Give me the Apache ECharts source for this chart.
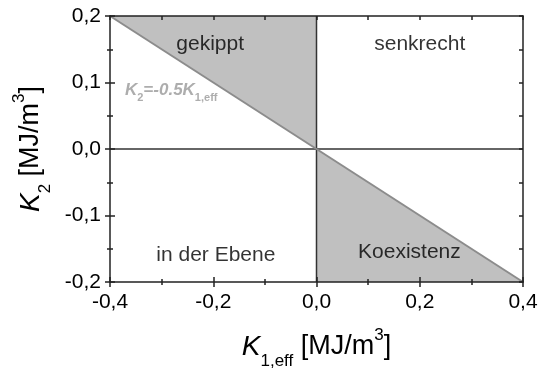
<!DOCTYPE html>
<html>
<head>
<meta charset="utf-8">
<script src="https://cdn.jsdelivr.net/npm/echarts@6/dist/echarts.min.js"></script>
<style>
  html, body { margin: 0; padding: 0; background: #fff; }
  #chart { width: 539px; height: 371px; }
</style>
</head>
<body>
<div id="chart"></div>
<script>
// Anisotropy phase diagram: K2 versus effective K1
const xTickLabels = ['-0,4', '-0,2', '0,0', '0,2', '0,4'];
const yTickLabels = ['-0,2', '-0,1', '0,0', '0,1', '0,2'];

// Boundary K2 = -0.5 K1,eff
const boundaryK1 = [-0.4, 0.4];
const boundaryK2 = [0.2, -0.2];

// Shaded regions (vertices in K1, K2)
const tiltedRegion = [[-0.4, 0.2], [0, 0.2], [0, 0]];
const coexistRegion = [[0, 0], [0, -0.2], [0.4, -0.2]];

// Zero lines
const zeroLineH = [[-0.4, 0], [0.4, 0]];
const zeroLineV = [[0, -0.2], [0, 0.2]];

// Region names
const regionNames = ['gekippt', 'senkrecht', 'in der Ebene', 'Koexistenz'];

const FONT = '"Liberation Sans", Arial, sans-serif';
const AX = '#222';

// Label anchors for region names (data coordinates)
const regionAnchors = [[-0.206, 0.157], [0.2, 0.157], [-0.195, -0.159], [0.18, -0.155]];
const formulaAnchor = [-0.371, 0.088];

function axisBase(extra) {
  return Object.assign({
    type: 'value',
    gridIndex: 0,
    z: 10,
    splitLine: { show: false },
    axisLine: { show: true, onZero: false, lineStyle: { color: AX, width: 1.5 } },
    axisTick: { show: true, inside: true, length: 5, lineStyle: { color: AX, width: 1.5 } },
    minorTick: { show: true, splitNumber: 2, length: 3, lineStyle: { color: AX, width: 1.5 } },
    axisLabel: { show: false }
  }, extra);
}

const xRange = { min: -0.4, max: 0.4, interval: 0.2 };
const yRange = { min: -0.2, max: 0.2, interval: 0.1 };

const titleRich = {
  k: { fontFamily: FONT, fontSize: 28, fontStyle: 'italic', color: '#000', verticalAlign: 'top', padding: [8, 0, 0, 0], lineHeight: 28 },
  t: { fontFamily: FONT, fontSize: 27, color: '#000', verticalAlign: 'top', padding: [8, 0, 0, 0], lineHeight: 28 },
  sub: { fontFamily: FONT, fontSize: 17, color: '#000', verticalAlign: 'top', padding: [28, 0, 0, 0], lineHeight: 17 },
  sup: { fontFamily: FONT, fontSize: 17, color: '#000', verticalAlign: 'top', padding: [2, 0, 0, 0], lineHeight: 17 }
};

const option = {
  backgroundColor: '#fff',
  animation: false,
  grid: { left: 110, right: 16, top: 16, bottom: 89, containLabel: false, outerBoundsMode: 'none' },
  xAxis: [
    axisBase(Object.assign({
      position: 'bottom',
      axisLabel: {
        show: true, margin: 10, color: '#000', fontFamily: FONT, fontSize: 21,
        formatter: (v, i) => xTickLabels[i]
      },
      name: '{k|K}{sub|1,eff}{t| [MJ/m}{sup|3}{t|]}',
      nameLocation: 'middle',
      nameGap: 43,
      nameTextStyle: { rich: titleRich }
    }, xRange)),
    axisBase(Object.assign({
      position: 'bottom',
      axisLine: { show: false, onZero: false },
      axisTick: { show: true, inside: false, length: 5, lineStyle: { color: AX, width: 1.5 } },
      minorTick: { show: true, splitNumber: 2, length: 3, lineStyle: { color: AX, width: 1.5 } }
    }, xRange)),
    axisBase(Object.assign({
      position: 'top',
      axisTick: { show: true, inside: true, length: 4, lineStyle: { color: AX, width: 1.5 } },
      minorTick: { show: true, splitNumber: 2, length: 4, lineStyle: { color: AX, width: 1.5 } }
    }, xRange))
  ],
  yAxis: [
    axisBase(Object.assign({
      position: 'left',
      axisLabel: {
        show: true, margin: 9, color: '#000', fontFamily: FONT, fontSize: 21,
        formatter: (v, i) => yTickLabels[i]
      },
      name: '{k|K}{sub|2}{t| [MJ/m}{sup|3}{t|]}',
      nameLocation: 'middle',
      nameRotate: 90,
      nameGap: 60,
      nameTextStyle: { rich: titleRich }
    }, yRange)),
    axisBase(Object.assign({
      position: 'left',
      axisLine: { show: false, onZero: false },
      axisTick: { show: true, inside: false, length: 5, lineStyle: { color: AX, width: 1.5 } },
      minorTick: { show: true, splitNumber: 2, length: 3, lineStyle: { color: AX, width: 1.5 } }
    }, yRange)),
    axisBase(Object.assign({
      position: 'right',
      axisTick: { show: true, inside: true, length: 4, lineStyle: { color: AX, width: 1.5 } },
      minorTick: { show: true, splitNumber: 2, length: 4, lineStyle: { color: AX, width: 1.5 } }
    }, yRange))
  ],
  series: [
    {
      type: 'custom',
      xAxisIndex: 0, yAxisIndex: 0,
      z: 1,
      silent: true,
      data: [0, 1],
      renderItem: function (params, api) {
        const poly = [tiltedRegion, coexistRegion][params.dataIndex];
        return {
          type: 'polygon',
          shape: { points: poly.map(p => api.coord(p)) },
          style: { fill: '#c0c0c0', stroke: null }
        };
      }
    },
    {
      type: 'line', xAxisIndex: 0, yAxisIndex: 0, z: 3, silent: true,
      symbol: 'none', data: zeroLineH,
      lineStyle: { color: '#333', width: 1.5 }
    },
    {
      type: 'line', xAxisIndex: 0, yAxisIndex: 0, z: 3, silent: true,
      symbol: 'none', data: zeroLineV,
      lineStyle: { color: '#333', width: 1.5 }
    },
    {
      type: 'line', xAxisIndex: 0, yAxisIndex: 0, z: 4, silent: true,
      symbol: 'none', data: boundaryK1.map((k1, i) => [k1, boundaryK2[i]]),
      lineStyle: { color: '#8c8c8c', width: 2 }
    },
    {
      type: 'scatter', xAxisIndex: 0, yAxisIndex: 0, z: 5, silent: true,
      symbolSize: 0,
      data: regionNames.map((n, i) => ({ name: n, value: regionAnchors[i] })),
      label: {
        show: true, position: 'inside', formatter: p => p.name,
        color: '#000', fontFamily: FONT, fontSize: 21
      }
    },
    {
      type: 'scatter', xAxisIndex: 0, yAxisIndex: 0, z: 5, silent: true,
      symbolSize: 0,
      data: [{ value: formulaAnchor }],
      label: {
        show: true, position: 'inside', align: 'left',
        formatter: '{k|K}{s|2}{k|=-0.5K}{s|1,eff}',
        rich: {
          k: { fontFamily: FONT, fontSize: 17, fontWeight: 'bold', fontStyle: 'italic', color: '#999', verticalAlign: 'top', padding: [0, 0, 0, 0], lineHeight: 17 },
          s: { fontFamily: FONT, fontSize: 11, fontWeight: 'bold', color: '#999', verticalAlign: 'top', padding: [10, 0, 0, 0], lineHeight: 11 }
        }
      }
    }
  ]
};

const chart = echarts.init(document.getElementById('chart'), null, { renderer: 'canvas' });
chart.setOption(option);
</script>
</body>
</html>
